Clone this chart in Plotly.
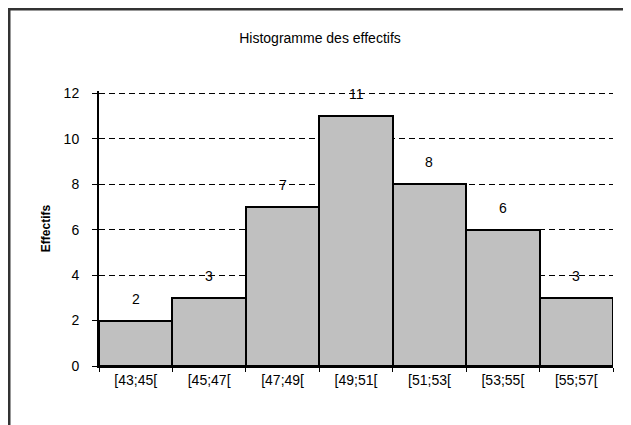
import plotly.graph_objects as go

categories = ["[43;45[", "[45;47[", "[47;49[", "[49;51[", "[51;53[", "[53;55[", "[55;57["]
values = [2, 3, 7, 11, 8, 6, 3]
y_ticks = [0, 2, 4, 6, 8, 10, 12]

# figure sits 8px inside the page (body margin)
W, H = 623, 417
L, R, T, B = 91, 18, 83, 59
pw, ph = W - L - R, H - T - B

FONT = "Liberation Sans, Arial, sans-serif"

fig = go.Figure()
fig.add_trace(go.Bar(
    x=categories, y=values,
    marker=dict(color="#C0C0C0", line=dict(color="black", width=2)),
    width=1.0,
))

for c, v in zip(categories, values):
    fig.add_annotation(x=c, y=v, text=str(v), showarrow=False, yshift=22,
                       font=dict(family=FONT, size=14, color="black"))

# outer frame (only top/left visible in the reference)
fig.add_shape(type="rect", xref="paper", yref="paper",
              x0=(1 - L) / pw, x1=(W + 20 - L) / pw,
              y0=(H - B - (H + 20)) / ph, y1=(H - B - 1) / ph,
              line=dict(color="#333333", width=3), layer="below")

fig.update_layout(
    width=W, height=H,
    margin=dict(l=L, r=R, t=T, b=B),
    paper_bgcolor="white", plot_bgcolor="white",
    showlegend=False,
    bargap=0,
    title=dict(text="Histogramme des effectifs", x=312 / W, xanchor="center",
               y=1 - 30 / H, yanchor="middle",
               font=dict(family=FONT, size=14, color="black")),
    font=dict(family=FONT, size=14, color="black"),
)
fig.update_xaxes(
    type="category", showline=True, linecolor="black", linewidth=2,
    ticks="outside", tickson="boundaries", ticklen=4, tickcolor="black",
    showgrid=False, range=[-0.5, 6.5], ticklabelstandoff=0,
)
fig.update_yaxes(
    range=[0, 12.1], tickvals=y_ticks, showline=True, linecolor="black", linewidth=2,
    ticks="outside", ticklen=5, tickcolor="black", ticklabelstandoff=10,
    showgrid=True, gridcolor="black", griddash="6px,4px", gridwidth=1,
    zeroline=False,
    title=dict(text="<b>Effectifs</b>", font=dict(size=12), standoff=10),
)
fig.write_html("out.html")
